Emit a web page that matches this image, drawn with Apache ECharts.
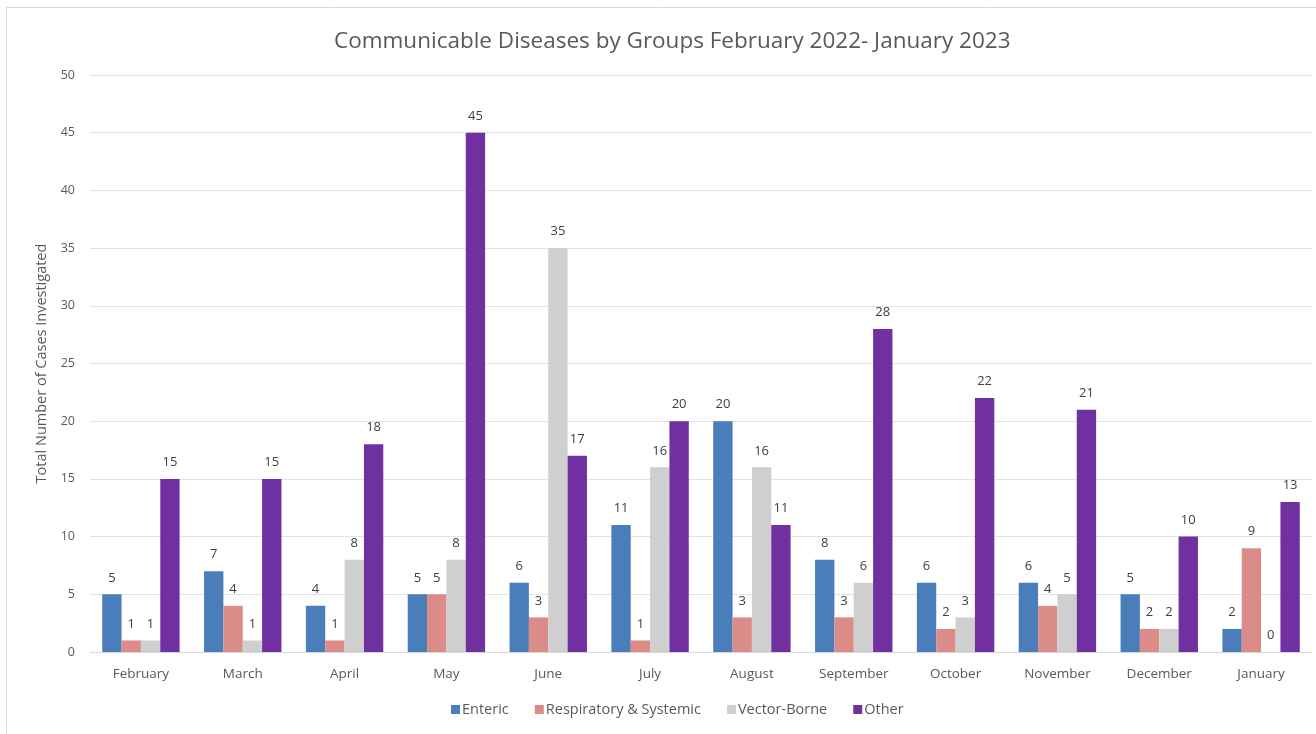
<!DOCTYPE html>
<html>
<head>
<meta charset="utf-8">
<script src="https://cdn.jsdelivr.net/npm/echarts@6/dist/echarts.min.js"></script>
<style>
  html, body { margin: 0; padding: 0; background: #fff; }
  #chart { width: 1316px; height: 734px; }
</style>
</head>
<body>
<div id="chart"></div>
<script>
var months = ["February", "March", "April", "May", "June", "July", "August",
  "September", "October", "November", "December", "January"];
var enteric = [5, 7, 4, 5, 6, 11, 20, 8, 6, 6, 5, 2];
var respiratory = [1, 4, 1, 5, 3, 1, 3, 3, 2, 4, 2, 9];
var vectorBorne = [1, 1, 8, 8, 35, 16, 16, 6, 3, 5, 2, 0];
var other = [15, 15, 18, 45, 17, 20, 11, 28, 22, 21, 10, 13];

var myChart = echarts.init(document.getElementById("chart"));

var font = "'Open Sans', 'Noto Sans', sans-serif";
var labelStyle = {
  show: true,
  position: "top",
  distance: 10,
  color: "#404040",
  fontSize: 13,
  fontFamily: font,
};

function bar(name, data, color) {
  return {
    name: name,
    type: "bar",
    data: data,
    barGap: "0%",
    barCategoryGap: "24%",
    itemStyle: { color: color },
    label: labelStyle,
  };
}

var option = {
  animation: false,
  textStyle: { fontFamily: font },
  graphic: [
    {
      type: "rect",
      shape: { x: 6.5, y: 7.5, width: 1330, height: 740 },
      style: { fill: null, stroke: "#d9d9d9", lineWidth: 1 },
      silent: true,
    },
  ],
  title: {
    text: "Communicable Diseases by Groups February 2022- January 2023",
    left: 329,
    top: 25,
    textStyle: {
      color: "#595959",
      fontSize: 22.5,
      fontWeight: "normal",
      fontFamily: font,
    },
  },
  legend: {
    bottom: 12,
    left: 446,
    itemWidth: 9,
    itemHeight: 9,
    itemGap: 26,
    icon: "rect",
    textStyle: { color: "#595959", fontSize: 14.5, fontFamily: font, padding: [0, 0, 0, -3] },
    data: ["Enteric", "Respiratory & Systemic", "Vector-Borne", "Other"],
  },
  grid: {
    left: 90,
    right: 4,
    top: 75,
    bottom: 82,
  },
  xAxis: {
    type: "category",
    data: months,
    axisLine: { lineStyle: { color: "#d9d9d9" } },
    axisTick: { show: false },
    axisLabel: { color: "#595959", fontSize: 13.5, margin: 15, fontFamily: font },
  },
  yAxis: {
    type: "value",
    min: 0,
    max: 50,
    interval: 5,
    name: "Total Number of Cases Investigated",
    nameLocation: "middle",
    nameGap: 41,
    nameTextStyle: { color: "#595959", fontSize: 14.5, fontFamily: font },
    axisLine: { show: false },
    axisTick: { show: false },
    axisLabel: { color: "#595959", fontSize: 12.5, margin: 15, fontFamily: font },
    splitLine: { lineStyle: { color: "#e3e3e3" } },
  },
  series: [
    bar("Enteric", enteric, "#4a7ebb"),
    bar("Respiratory & Systemic", respiratory, "#dc8c88"),
    bar("Vector-Borne", vectorBorne, "#cfcfcf"),
    bar("Other", other, "#7030a0"),
  ],
};

myChart.setOption(option);
</script>
</body>
</html>
